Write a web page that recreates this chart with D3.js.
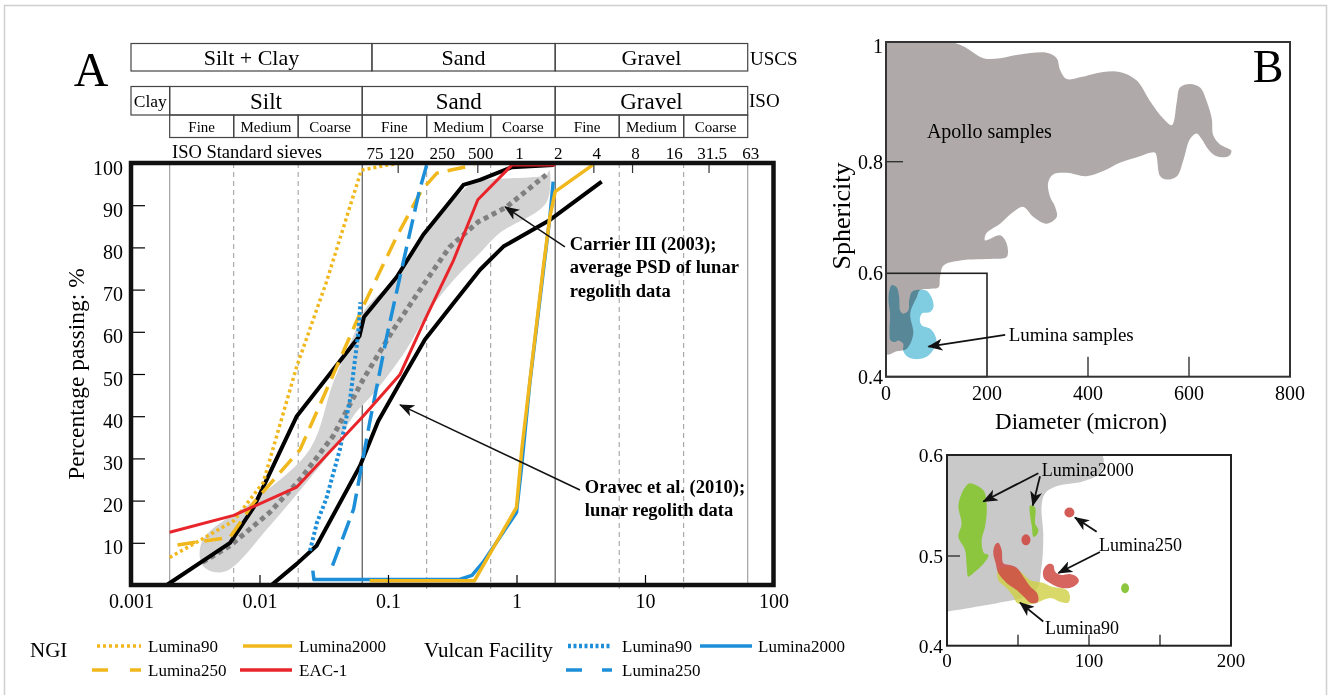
<!DOCTYPE html>
<html>
<head>
<meta charset="utf-8">
<script src="https://cdn.jsdelivr.net/npm/d3@7"></script>
<style>
  body { margin: 0; background: #fff; }
  svg { font-family: "Liberation Serif", "Times New Roman", serif; }
</style>
</head>
<body>
<svg id="chart" width="1328" height="695"></svg>
<script>
// ---------- Panel A data: [grain size mm, percentage passing %] ----------
const oravecUpper = [[0.0019,0],[0.0059,10],[0.009,18.4],[0.0195,40],[0.06,59],[0.065,63.5],[0.117,73],[0.188,83],[0.386,94.8],[0.52,96],[0.92,99],[1.95,99.5]];
const oravecLower = [[0.0124,0],[0.0195,5],[0.0278,9.3],[0.0605,28.2],[0.0838,38.8],[0.124,47.9],[0.194,58.2],[0.324,66.8],[0.52,74.7],[0.79,80.2],[1.82,86.5],[4.6,95.6]];
const carrierAvg = [[0.0036,5.4],[0.0059,9.3],[0.012,17.2],[0.0207,25],[0.0374,35.3],[0.064,48.7],[0.11,60.5],[0.2,72.3],[0.3,80],[0.5,86],[0.83,89.5],[1.7,97.2]];
const carrierBandTop = [[0.0035,5.4],[0.00365,10.9],[0.0101,21.1],[0.0247,32.2],[0.0374,47.9],[0.0536,58.9],[0.066,65.2],[0.117,73.1],[0.188,82.6],[0.386,93.6],[0.49,95.6],[1.7,97.2],[1.8,98.3]];
const carrierBandBottom = [[1.7,90.5],[0.74,83.4],[0.52,78.7],[0.324,72.3],[0.211,65.2],[0.139,55.8],[0.082,46.3],[0.0536,40],[0.0374,32.2],[0.0232,24.3],[0.012,14],[0.0056,3.4],[0.0041,3.4]];
const ngiLumina90 = [[0.002,6.5],[0.0063,15.2],[0.0107,24.3],[0.0195,51.8],[0.033,71.6],[0.062,98.3],[0.098,99.5],[0.13,100]];
const ngiLumina250 = [[0.0023,9.5],[0.0059,11.3],[0.009,19.5],[0.0207,32.1],[0.04,51.8],[0.064,66],[0.117,82.6],[0.183,93.6],[0.24,97.6],[0.47,99.5]];
const ngiLumina2000 = [[0.072,1],[0.47,1],[1.0,18.4],[1.1,32.2],[1.31,51.8],[1.62,75.5],[1.82,87.3],[2.0,93.2],[3.9,99.5]];
const ngiEAC1 = [[0.002,12.5],[0.0063,16.5],[0.0195,23.2],[0.041,33.7],[0.064,40],[0.124,49.9],[0.194,62.9],[0.324,77],[0.5,91.3],[0.92,99.5],[2,99.5]];
const vulcanLumina90 = [[0.0247,8.1],[0.028,14.8],[0.033,20.3],[0.0423,32.2],[0.0507,44],[0.0587,59.7],[0.061,67]];
const vulcanLumina250 = [[0.037,4.6],[0.054,18],[0.072,38.5],[0.098,59],[0.124,73.1],[0.176,93.6],[0.2,99.5]];
const vulcanLumina2000 = [[0.026,3.4],[0.0265,1.3],[0.36,1.3],[0.45,2.3],[0.55,5.4],[1.0,17.2],[1.09,27.4],[1.27,47.9],[1.52,67.6],[1.82,87.3],[1.93,95.6]];

// axis ticks and size classes
const xTicks = [0.001, 0.01, 0.1, 1, 10, 100];
const xTickLabels = ["0.001", "0.01", "0.1", "1", "10", "100"];
const yTicks = [10, 20, 30, 40, 50, 60, 70, 80, 90, 100];
const solidGrid = [0.002, 0.063, 2, 63];
const dashedGrid = [0.0063, 0.02, 0.2, 0.63, 6.3, 20];
const sieveValues = [0.075, 0.12, 0.25, 0.5, 1, 2, 4, 8, 16, 31.5, 63];
const sieveLabels = ["75", "120", "250", "500", "1", "2", "4", "8", "16", "31.5", "63"];
const sieveTopTicks = [0.12, 0.5, 4, 8, 31.5];
const uscsBounds = [0.001, 0.075, 2, 63];
const uscsNames = ["Silt + Clay", "Sand", "Gravel"];
const isoBounds = [0.001, 0.002, 0.063, 2, 63];
const isoNames = ["Clay", "Silt", "Sand", "Gravel"];
const isoSubBounds = [0.002, 0.0063, 0.02, 0.063, 0.2, 0.63, 2, 6.3, 20, 63];
const isoSubNames = ["Fine", "Medium", "Coarse", "Fine", "Medium", "Coarse", "Fine", "Medium", "Coarse"];

// ---------- Panel B data: [diameter micron, sphericity] ----------
const apolloShape = [[0,1.0],[127,1.0],[153,0.993],[193,0.973],[226,0.973],[265,0.979],[318,0.982],[338,0.973],[345,0.953],[358,0.938],[384,0.941],[430,0.95],[463,0.95],[496,0.936],[523,0.901],[549,0.872],[566,0.861],[576,0.901],[582,0.924],[602,0.930],[622,0.924],[635,0.901],[645,0.872],[648,0.844],[661,0.829],[684,0.818],[678,0.809],[655,0.809],[638,0.821],[625,0.838],[615,0.847],[602,0.838],[589,0.803],[576,0.774],[556,0.768],[543,0.774],[533,0.815],[523,0.815],[503,0.809],[463,0.798],[437,0.786],[397,0.774],[358,0.780],[331,0.777],[321,0.762],[325,0.737],[335,0.719],[338,0.701],[318,0.689],[292,0.701],[272,0.719],[252,0.710],[226,0.689],[199,0.672],[196,0.659],[226,0.668],[239,0.653],[239,0.629],[213,0.626],[147,0.623],[114,0.614],[107,0.593],[104,0.573],[87,0.570],[67,0.567],[61,0.554],[48,0.522],[54,0.483],[41,0.454],[21,0.449],[0,0.444]];
const luminaShape = [[11,0.577],[21,0.573],[26,0.554],[28,0.528],[34,0.522],[44,0.528],[46,0.548],[51,0.564],[64,0.568],[81,0.566],[90,0.554],[94,0.535],[87,0.525],[71,0.522],[67,0.509],[71,0.499],[87,0.493],[97,0.480],[100,0.464],[90,0.447],[77,0.437],[57,0.434],[42,0.439],[34,0.450],[34,0.464],[24,0.470],[18,0.467],[9,0.470],[7,0.489],[8,0.522],[5,0.548],[7,0.568]];
const bXTicks = [0, 200, 400, 600, 800];
const bYTicks = [0.4, 0.6, 0.8, 1];

// inset (zoom of 0-200 micron, 0.4-0.6)
const insetApollo = [[0,0.6],[109,0.6],[108,0.583],[96,0.574],[77,0.569],[69,0.562],[66.6,0.549],[67.8,0.522],[67.3,0.499],[66,0.481],[64.3,0.466],[56,0.455],[40,0.449],[16,0.442],[0,0.438]];
const l2000Left = [[16,0.572],[25.6,0.565],[28,0.549],[26.8,0.529],[24.4,0.516],[26,0.503],[29.2,0.501],[26,0.492],[18.6,0.481],[15,0.477],[13.9,0.488],[12.7,0.506],[8,0.519],[10.3,0.532],[8,0.549],[10.3,0.562],[13.9,0.570]];
const l2000Mid = [[58.6,0.550],[62,0.548],[62.1,0.532],[64.4,0.526],[63.3,0.521],[60.9,0.519],[59.8,0.529],[58.6,0.539]];
const l2000Dot = [[125.4, 0.464]];
const l90Shape = [[36.1,0.484],[44.4,0.488],[51.4,0.483],[58.6,0.473],[67.8,0.470],[73.7,0.466],[84.3,0.462],[86.6,0.455],[85.4,0.448],[79.6,0.449],[73.7,0.453],[67.8,0.451],[63.3,0.448],[56.1,0.446],[49.1,0.448],[46.7,0.455],[40.8,0.466],[36.1,0.473]];
const l250Main = [[33.8,0.511],[36.1,0.513],[38.5,0.506],[39.7,0.492],[44.4,0.490],[49.1,0.487],[53.8,0.477],[58.6,0.466],[63.3,0.459],[64.4,0.451],[63.3,0.448],[58.6,0.448],[53.8,0.455],[49.1,0.462],[42,0.470],[36.1,0.481],[34.3,0.492],[32.6,0.503]];
const l250Hook = [[67.8,0.484],[71.3,0.491],[74.8,0.490],[76,0.483],[79.6,0.479],[86.6,0.480],[91.3,0.477],[92.9,0.472],[89.4,0.466],[83,0.464],[77.2,0.466],[72.5,0.470],[68.3,0.475]];
const l250Dots = [[55.6,0.516],[86.2,0.543]];
const cXTicks = [0, 50, 100, 150, 200];
const cXTickLabels = ["0", "", "100", "", "200"];
const cYTicks = [0.4, 0.5, 0.6];

const legendNGI = ["Lumina90", "Lumina2000", "Lumina250", "EAC-1"];
const legendVulcan = ["Lumina90", "Lumina2000", "Lumina250"];

// ---------- colours ----------
const yellow = "#f0b81c", red = "#e8252a", blue = "#1c8fd8";

const svg = d3.select("#chart");

svg.append("defs").append("marker")
    .attr("id", "arrow")
    .attr("markerUnits", "userSpaceOnUse")
    .attr("markerWidth", 16).attr("markerHeight", 12)
    .attr("refX", 14).attr("refY", 6)
    .attr("orient", "auto")
    .append("path")
    .attr("d", "M0,0 L15,6 L0,12 L4,6 Z")
    .attr("fill", "#111");

// outer light border
svg.append("rect")
    .attr("x", 4.5).attr("y", 5.5).attr("width", 1322).attr("height", 720)
    .attr("fill", "none").attr("stroke", "#cfcfcf").attr("stroke-width", 1.5);

// ================= PANEL A =================
const x = d3.scaleLog().domain([0.001, 100]).range([131, 773.5]);
const y = d3.scaleLinear().domain([0, 100]).range([585, 163]);
const gA = svg.append("g");

gA.append("text").attr("x", 91).attr("y", 86).attr("text-anchor", "middle")
    .attr("font-size", 48).text("A");

// header tables
function cellRow(bounds, names, top, h, fs) {
    const row = gA.append("g");
    row.selectAll("rect").data(names).join("rect")
        .attr("x", (d, i) => x(bounds[i]))
        .attr("y", top)
        .attr("width", (d, i) => x(bounds[i + 1]) - x(bounds[i]))
        .attr("height", h)
        .attr("fill", "none").attr("stroke", "#444").attr("stroke-width", 1.2);
    row.selectAll("text").data(names).join("text")
        .attr("x", (d, i) => (x(bounds[i]) + x(bounds[i + 1])) / 2)
        .attr("y", top + h / 2)
        .attr("dy", "0.35em")
        .attr("text-anchor", "middle")
        .attr("font-size", (d, i) => (d === "Clay" ? 17.5 : fs))
        .text(d => d);
}
cellRow(uscsBounds, uscsNames, 43.5, 27.5, 22);
cellRow(isoBounds, isoNames, 86.5, 28.5, 23);
cellRow(isoSubBounds, isoSubNames, 115, 22.5, 15);
gA.append("text").attr("x", 750).attr("y", 58).attr("dy", "0.35em").attr("font-size", 19).text("USCS");
gA.append("text").attr("x", 749).attr("y", 100).attr("dy", "0.35em").attr("font-size", 19).text("ISO");
gA.append("text").attr("x", 172).attr("y", 152).attr("dy", "0.35em").attr("font-size", 18.5).text("ISO Standard sieves");
gA.selectAll(".sieve").data(sieveValues).join("text")
    .attr("class", "sieve")
    .attr("x", d => x(d) + 3).attr("y", 153).attr("dy", "0.35em")
    .attr("text-anchor", "middle").attr("font-size", 17)
    .text((d, i) => sieveLabels[i]);

// grid lines
gA.selectAll(".gsolid").data(solidGrid).join("line")
    .attr("x1", d => x(d)).attr("x2", d => x(d))
    .attr("y1", y(100)).attr("y2", y(0))
    .attr("stroke", d => (d === 0.063 || d === 2) ? "#444" : "#999")
    .attr("stroke-width", 1.1);
gA.selectAll(".gdash").data(dashedGrid).join("line")
    .attr("x1", d => x(d)).attr("x2", d => x(d))
    .attr("y1", y(100)).attr("y2", y(0) + 4)
    .attr("stroke", "#999").attr("stroke-width", 1)
    .attr("stroke-dasharray", "5,4");

// top sieve ticks
gA.selectAll(".ttick").data(sieveTopTicks).join("line")
    .attr("x1", d => x(d)).attr("x2", d => x(d))
    .attr("y1", y(100)).attr("y2", y(100) + 10)
    .attr("stroke", "#333").attr("stroke-width", 1.2);

const line = d3.line().x(d => x(d[0])).y(d => y(d[1]));

// Carrier band
gA.append("path")
    .datum(carrierBandTop.concat(carrierBandBottom))
    .attr("d", d3.line().x(d => x(d[0])).y(d => y(d[1])).curve(d3.curveCatmullRomClosed.alpha(0.5)))
    .attr("fill", "#d3d3d3");

const curves = [
    { data: carrierAvg, color: "#808080", width: 5, dash: "5,4" },
    { data: oravecUpper, color: "#000", width: 4, dash: null },
    { data: oravecLower, color: "#000", width: 4, dash: null },
    { data: ngiLumina90, color: yellow, width: 3.5, dash: "3,3" },
    { data: ngiLumina250, color: yellow, width: 3.5, dash: "18,9" },
    { data: vulcanLumina90, color: blue, width: 4, dash: "3,2.5" },
    { data: vulcanLumina250, color: blue, width: 3.5, dash: "20,8" },
    { data: vulcanLumina2000, color: blue, width: 3.5, dash: null },
    { data: ngiLumina2000, color: yellow, width: 3.5, dash: null },
    { data: ngiEAC1, color: red, width: 3, dash: null }
];
gA.selectAll(".curve").data(curves).join("path")
    .attr("class", "curve")
    .attr("d", d => line(d.data))
    .attr("fill", "none")
    .attr("stroke", d => d.color)
    .attr("stroke-width", d => d.width)
    .attr("stroke-dasharray", d => d.dash)
    .attr("stroke-linejoin", "round");

// axes
const yAxis = gA.append("g").attr("transform", `translate(${x(0.001)},0)`)
    .call(d3.axisLeft(y).tickValues(yTicks).tickSize(-14).tickPadding(8));
yAxis.select(".domain").remove();
yAxis.selectAll("line").attr("stroke", "#000").attr("stroke-width", 1.2);
yAxis.selectAll("text").attr("font-size", 20).attr("font-family", "Liberation Serif").attr("dy", "0.55em").attr("fill", "#000");

const xAxis = gA.append("g").attr("transform", `translate(0,${y(0)})`)
    .call(d3.axisBottom(x).tickValues(xTicks).tickSize(-10).tickPadding(9)
        .tickFormat((d, i) => xTickLabels[i]));
xAxis.select(".domain").remove();
xAxis.selectAll("line").attr("stroke", "#000").attr("stroke-width", 1.2);
xAxis.selectAll("text").attr("font-size", 20).attr("font-family", "Liberation Serif").attr("fill", "#000");

gA.append("text")
    .attr("transform", `translate(76,${(y(0) + y(100)) / 2}) rotate(-90)`)
    .attr("text-anchor", "middle").attr("dy", "0.35em")
    .attr("font-size", 23.5).text("Percentage passing: %");

// frame
gA.append("rect")
    .attr("x", x(0.001)).attr("y", y(100))
    .attr("width", x(100) - x(0.001)).attr("height", y(0) - y(100))
    .attr("fill", "none").attr("stroke", "#111").attr("stroke-width", 4.5);

// annotations
gA.append("line")
    .attr("x1", x(2.38)).attr("y1", y(80.1)).attr("x2", x(0.815)).attr("y2", y(89.6))
    .attr("stroke", "#111").attr("stroke-width", 1.5).attr("marker-end", "url(#arrow)");
gA.append("text").attr("x", x(2.6)).attr("y", y(79.4)).attr("dy", "0.35em")
    .attr("font-size", 18.5).attr("font-weight", "bold")
    .selectAll("tspan").data(["Carrier III (2003);", "average PSD of lunar", "regolith data"]).join("tspan")
    .attr("x", x(2.6)).attr("dy", (d, i) => i === 0 ? 0 : 23.5).text(d => d);

gA.append("line")
    .attr("x1", x(3.12)).attr("y1", y(22.5)).attr("x2", x(0.124)).attr("y2", y(42.7))
    .attr("stroke", "#111").attr("stroke-width", 1.5).attr("marker-end", "url(#arrow)");
gA.append("text").attr("x", x(3.4)).attr("y", y(21.8)).attr("dy", "0.35em")
    .attr("font-size", 18.5).attr("font-weight", "bold")
    .selectAll("tspan").data(["Oravec et al. (2010);", "lunar regolith data"]).join("tspan")
    .attr("x", x(3.4)).attr("dy", (d, i) => i === 0 ? 0 : 22.5).text(d => d);

// legend
const legend = svg.append("g");
const row1 = 646, row2 = 670;
legend.append("text").attr("x", 30).attr("y", 650).attr("dy", "0.35em").attr("font-size", 21).text("NGI");
legend.append("text").attr("x", 424).attr("y", 650).attr("dy", "0.35em").attr("font-size", 21).text("Vulcan Facility");
const legendItems = [
    { name: legendNGI[0], x0: 97, x1: 141, lx: 148, y: row1, color: yellow, w: 3.5, dash: "3,3" },
    { name: legendNGI[1], x0: 243, x1: 292, lx: 299, y: row1, color: yellow, w: 3.5, dash: null },
    { name: legendNGI[2], x0: 92, x1: 141, lx: 148, y: row2, color: yellow, w: 3.5, dash: "16,22" },
    { name: legendNGI[3], x0: 240, x1: 292, lx: 299, y: row2, color: red, w: 3.5, dash: null },
    { name: legendVulcan[0], x0: 568, x1: 612, lx: 622, y: row1, color: blue, w: 4.5, dash: "3,2.5" },
    { name: legendVulcan[1], x0: 700, x1: 752, lx: 758, y: row1, color: blue, w: 3.5, dash: null },
    { name: legendVulcan[2], x0: 566, x1: 612, lx: 622, y: row2, color: blue, w: 3.5, dash: "16,20" }
];
legend.selectAll("line").data(legendItems).join("line")
    .attr("x1", d => d.x0).attr("x2", d => d.x1)
    .attr("y1", d => d.y).attr("y2", d => d.y)
    .attr("stroke", d => d.color).attr("stroke-width", d => d.w)
    .attr("stroke-dasharray", d => d.dash);
legend.selectAll("text.item").data(legendItems).join("text")
    .attr("class", "item")
    .attr("x", d => d.lx).attr("y", d => d.y).attr("dy", "0.35em")
    .attr("font-size", 17).text(d => d.name);

// ================= PANEL B (top) =================
const xB = d3.scaleLinear().domain([0, 800]).range([886, 1290]);
const yB = d3.scaleLinear().domain([0.4, 0.6, 0.8, 1]).range([376.7, 273.3, 161.7, 42]);
const gB = svg.append("g");
svg.select("defs").append("clipPath").attr("id", "clipB")
    .append("rect").attr("x", xB(0)).attr("y", yB(1)).attr("width", xB(800) - xB(0)).attr("height", yB(0.4) - yB(1));

const blobB = d3.line().x(d => xB(d[0])).y(d => yB(d[1])).curve(d3.curveCatmullRomClosed.alpha(0.5));
gB.append("path").datum(apolloShape).attr("d", blobB)
    .attr("fill", "#b0a9aa").attr("clip-path", "url(#clipB)");
gB.append("path").datum(luminaShape).attr("d", blobB)
    .attr("fill", "#80cde2").style("mix-blend-mode", "multiply");

// inset box
gB.append("rect").attr("x", xB(0)).attr("y", yB(0.6))
    .attr("width", xB(200) - xB(0)).attr("height", yB(0.4) - yB(0.6))
    .attr("fill", "none").attr("stroke", "#222").attr("stroke-width", 1.6);

// ticks
gB.selectAll(".bxt").data([400, 600]).join("line")
    .attr("x1", d => xB(d)).attr("x2", d => xB(d)).attr("y1", yB(0.4)).attr("y2", yB(0.4) - 20)
    .attr("stroke", "#333").attr("stroke-width", 1.4);
gB.append("line").attr("x1", xB(0)).attr("x2", xB(0) + 17).attr("y1", yB(0.8)).attr("y2", yB(0.8))
    .attr("stroke", "#333").attr("stroke-width", 1.4);

gB.append("rect").attr("x", xB(0)).attr("y", yB(1))
    .attr("width", xB(800) - xB(0)).attr("height", yB(0.4) - yB(1))
    .attr("fill", "none").attr("stroke", "#333").attr("stroke-width", 2);

gB.selectAll(".bxl").data(bXTicks).join("text")
    .attr("x", d => xB(d)).attr("y", yB(0.4) + 23).attr("text-anchor", "middle")
    .attr("font-size", 20).text(d => d);
gB.selectAll(".byl").data(bYTicks).join("text")
    .attr("x", xB(0) - 3).attr("y", d => yB(d) + (d === 1 ? 4 : 0)).attr("dy", "0.35em")
    .attr("text-anchor", "end").attr("font-size", 20).text(d => d);
gB.append("text").attr("x", 1081).attr("y", 421).attr("dy", "0.35em").attr("text-anchor", "middle")
    .attr("font-size", 23).text("Diameter (micron)");
gB.append("text").attr("transform", "translate(841,216) rotate(-90)")
    .attr("text-anchor", "middle").attr("dy", "0.35em").attr("font-size", 26).text("Sphericity");
gB.append("text").attr("x", 1268).attr("y", 82).attr("text-anchor", "middle").attr("font-size", 46).text("B");
gB.append("text").attr("x", xB(81)).attr("y", yB(0.852)).attr("dy", "0.35em").attr("font-size", 20).text("Apollo samples");
gB.append("text").attr("x", xB(243)).attr("y", yB(0.481)).attr("dy", "0.35em").attr("font-size", 19).text("Lumina samples");
gB.append("line").attr("x1", xB(236)).attr("y1", yB(0.481)).attr("x2", xB(84)).attr("y2", yB(0.458))
    .attr("stroke", "#111").attr("stroke-width", 1.8).attr("marker-end", "url(#arrow)");

// ================= PANEL B (inset) =================
const xC = d3.scaleLinear().domain([0, 200]).range([947, 1231]);
const yC = d3.scaleLinear().domain([0.4, 0.5, 0.6]).range([645.7, 556, 455]);
const gC = svg.append("g");
svg.select("defs").append("clipPath").attr("id", "clipC")
    .append("rect").attr("x", xC(0)).attr("y", yC(0.6)).attr("width", xC(200) - xC(0)).attr("height", yC(0.4) - yC(0.6));

gC.append("path").datum(insetApollo)
    .attr("d", d3.line().x(d => xC(d[0])).y(d => yC(d[1])).curve(d3.curveCatmullRom.alpha(0.5)))
    .attr("fill", "#c9c9c9").attr("clip-path", "url(#clipC)");

const blobC = d3.line().x(d => xC(d[0])).y(d => yC(d[1])).curve(d3.curveCatmullRomClosed.alpha(0.5));
gC.selectAll(".green").data([l2000Left, l2000Mid]).join("path")
    .attr("d", blobC).attr("fill", "#8cc63e");
gC.selectAll(".gdot").data(l2000Dot).join("ellipse")
    .attr("cx", d => xC(d[0])).attr("cy", d => yC(d[1])).attr("rx", 4).attr("ry", 5)
    .attr("fill", "#8cc63e");
gC.append("path").datum(l90Shape).attr("d", blobC).attr("fill", "#cfcf45").attr("opacity", 0.8);
gC.selectAll(".red").data([l250Main, l250Hook]).join("path")
    .attr("d", blobC).attr("fill", "#cf4a44").attr("opacity", 0.85);
gC.selectAll(".rdot").data(l250Dots).join("ellipse")
    .attr("cx", d => xC(d[0])).attr("cy", d => yC(d[1])).attr("rx", (d, i) => i ? 5 : 4.5).attr("ry", (d, i) => i ? 5 : 5.5)
    .attr("fill", "#cf4a44").attr("opacity", 0.9);

gC.selectAll(".cxt").data([50, 100, 150]).join("line")
    .attr("x1", d => xC(d)).attr("x2", d => xC(d)).attr("y1", yC(0.4)).attr("y2", yC(0.4) - 11)
    .attr("stroke", "#333").attr("stroke-width", 1.4);
gC.append("line").attr("x1", xC(0)).attr("x2", xC(0) + 13).attr("y1", yC(0.5)).attr("y2", yC(0.5))
    .attr("stroke", "#333").attr("stroke-width", 1.4);
gC.append("rect").attr("x", xC(0)).attr("y", yC(0.6))
    .attr("width", xC(200) - xC(0)).attr("height", yC(0.4) - yC(0.6))
    .attr("fill", "none").attr("stroke", "#222").attr("stroke-width", 2);
gC.selectAll(".cxl").data(cXTicks).join("text")
    .attr("x", d => xC(d)).attr("y", yC(0.4) + 21).attr("text-anchor", "middle")
    .attr("font-size", 19).text((d, i) => cXTickLabels[i]);
gC.selectAll(".cyl").data(cYTicks).join("text")
    .attr("x", xC(0) - 4).attr("y", d => yC(d)).attr("dy", "0.35em")
    .attr("text-anchor", "end").attr("font-size", 19.5).text(d => d);

const insetLabels = [
    { t: "Lumina2000", p: [66.7, 0.585] },
    { t: "Lumina250", p: [107, 0.511] },
    { t: "Lumina90", p: [69, 0.42] }
];
gC.selectAll(".clab").data(insetLabels).join("text")
    .attr("x", d => xC(d.p[0])).attr("y", d => yC(d.p[1])).attr("dy", "0.35em")
    .attr("font-size", 18).text(d => d.t);
const insetArrows = [
    [[64.3, 0.582], [25.6, 0.554]],
    [[65.5, 0.579], [60.4, 0.550]],
    [[105.4, 0.524], [90.1, 0.538]],
    [[107.7, 0.504], [78.4, 0.481]],
    [[67.8, 0.427], [51.4, 0.448]]
];
gC.selectAll(".carr").data(insetArrows).join("line")
    .attr("x1", d => xC(d[0][0])).attr("y1", d => yC(d[0][1]))
    .attr("x2", d => xC(d[1][0])).attr("y2", d => yC(d[1][1]))
    .attr("stroke", "#111").attr("stroke-width", 1.8).attr("marker-end", "url(#arrow)");
</script>
</body>
</html>
